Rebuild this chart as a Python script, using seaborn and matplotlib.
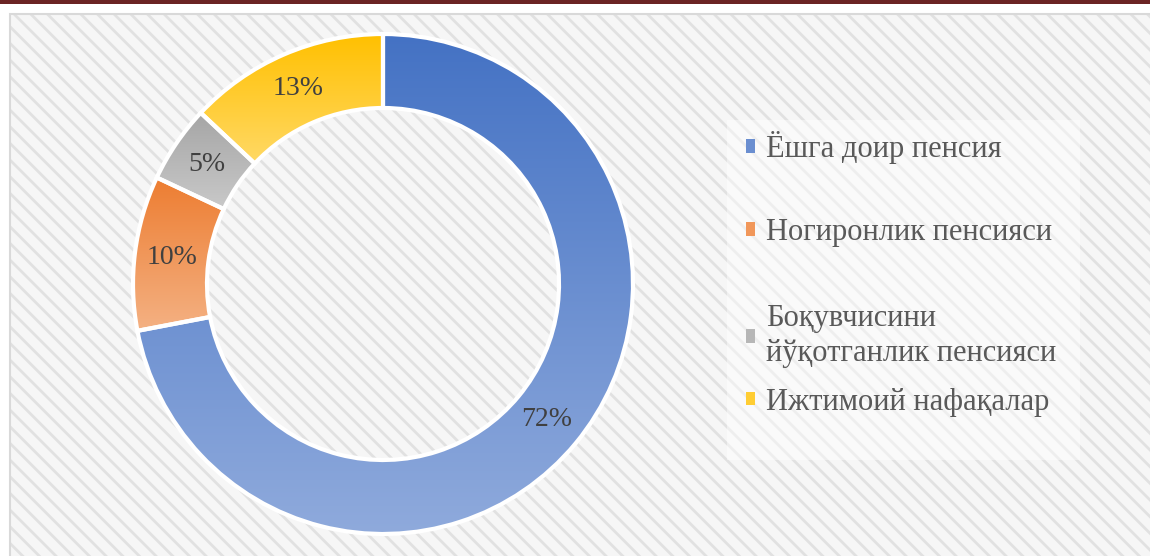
import numpy as np
import matplotlib
matplotlib.use("Agg")
import matplotlib.pyplot as plt
import seaborn as sns
from matplotlib.patches import Rectangle, Patch

# data
labels = ["Ёшга доир пенсия", "Ногиронлик пенсияси",
          "Боқувчисини\nйўқотганлик пенсияси", "Ижтимоий нафақалар"]
shares = [72, 10, 5, 13]
pct_labels = ["72%", "10%", "5%", "13%"]
top_colors = ["#4472C4", "#ED7D31", "#A5A5A5", "#FFC000"]
bottom_colors = ["#8FAADC", "#F4B183", "#C9C9C9", "#FFD966"]

sns.set_theme(style="white")
plt.rcParams["font.family"] = ["Liberation Serif", "DejaVu Serif"]
plt.rcParams["hatch.linewidth"] = 2.0

W, H = 1150, 556
fig = plt.figure(figsize=(W / 100, H / 100), dpi=100)
fig.patch.set_facecolor("white")


def fx(px):
    return px / W


def fy(py):
    return 1 - py / H


# dark strip on top
fig.patches.append(Rectangle((0, fy(3.5)), 1, 3.5 / H, transform=fig.transFigure,
                             facecolor="#6B2424", edgecolor="none", zorder=0))
# hatched chart area + its border
fig.patches.append(Rectangle((fx(10), 0), 1, fy(14), transform=fig.transFigure,
                             facecolor="#F6F6F6", edgecolor="#E1E1E1", lw=0,
                             hatch="\\\\", zorder=0))
fig.patches.append(Rectangle((fx(10), -0.01), 1, fy(14) + 0.01, transform=fig.transFigure,
                             facecolor="none", edgecolor="#D9D9D9", lw=1.5, zorder=0.2))
# lighter legend box
fig.patches.append(Rectangle((fx(727), fy(460)), (1080 - 727) / W, 340 / H,
                             transform=fig.transFigure, facecolor="white",
                             edgecolor="none", alpha=0.45, zorder=0.3))

# donut
cx, cy, R = 383, 284, 250
ax = fig.add_axes([fx(cx - 260), fy(cy + 260), 520 / W, 520 / H])
ax.set_zorder(2)
ax.patch.set_alpha(0)
wedges, _ = ax.pie(shares, startangle=90, counterclock=False, radius=1,
                   wedgeprops=dict(width=0.296, linewidth=3, edgecolor="white"))

for w, top, bot, pct in zip(wedges, top_colors, bottom_colors, pct_labels):
    w.set_facecolor("none")
    t = np.radians(np.linspace(w.theta1, w.theta2, 300))
    rr = np.concatenate([np.full_like(t, w.r), np.full_like(t, w.r - w.width)])
    tt = np.concatenate([t, t])
    xs, ys = rr * np.cos(tt), rr * np.sin(tt)
    cmap = sns.blend_palette([bot, top], as_cmap=True)
    grad = np.linspace(0, 1, 256).reshape(-1, 1)
    im = ax.imshow(grad, cmap=cmap, origin="lower", aspect="auto",
                   extent=[xs.min(), xs.max(), ys.min(), ys.max()],
                   zorder=0.5, interpolation="bicubic")
    im.set_clip_path(w)
    mid = np.radians((w.theta1 + w.theta2) / 2)
    rm = w.r - w.width / 2
    ax.text(rm * np.cos(mid), rm * np.sin(mid), pct, ha="center", va="center",
            fontsize=20, color="#404040", zorder=3)

ax.set_xlim(-1.04, 1.04)
ax.set_ylim(-1.04, 1.04)
ax.axis("off")

handles = [Patch(facecolor=sns.blend_palette([t, b], 3)[1], edgecolor="none")
           for t, b in zip(top_colors, bottom_colors)]
leg_kw = dict(loc="upper left", frameon=False, fontsize=22, labelcolor="#595959",
              handlelength=0.3, handleheight=0.3, handletextpad=0.35,
              borderaxespad=0, borderpad=0)
# the legend entries are not evenly spaced in the reference -> two blocks
leg1 = fig.legend(handles[:2], labels[:2], bbox_to_anchor=(fx(746), fy(131)),
                  labelspacing=1.76, **leg_kw)
leg2 = fig.legend(handles[2:], labels[2:], bbox_to_anchor=(fx(746), fy(304)),
                  labelspacing=0.64, **leg_kw)
for leg in (leg1, leg2):
    for txt in leg.get_texts():
        txt.set_linespacing(1.28)
    leg.set_zorder(3)

fig.savefig("out.png", dpi=100)
